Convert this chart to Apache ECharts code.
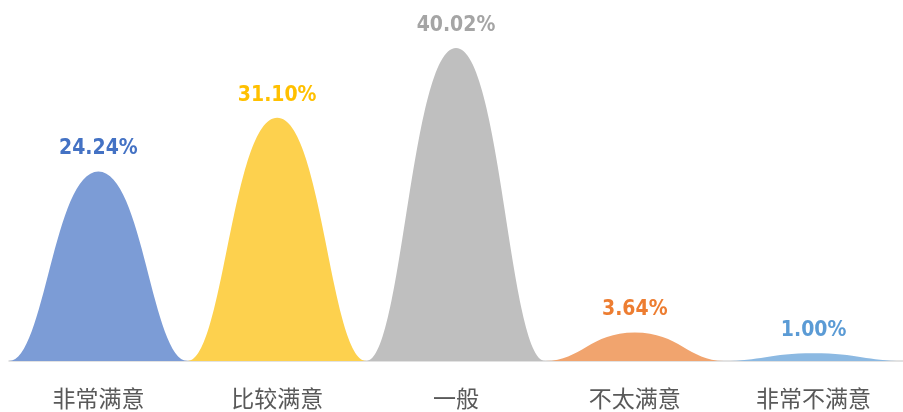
<!DOCTYPE html>
<html><head><meta charset="utf-8">
<script src="https://cdn.jsdelivr.net/npm/echarts@6/dist/echarts.min.js"></script>
<style>html,body{margin:0;padding:0;background:#fff}#c{width:903px;height:412px}</style>
</head><body><div id="c"></div>
<script>
var categories = ['非常满意','比较满意','一般','不太满意','非常不满意'];
var values = [24.24, 31.10, 40.02, 3.64, 1.00];
var barColors = ['#7C9CD6','#FDD14E','#BFBFBF','#F1A46E','#8CB9E2'];
var labelColors = ['#4472C4','#FFC000','#A5A5A5','#ED7D31','#5B9BD5'];

var chart = echarts.init(document.getElementById('c'));
chart.setOption({
  animation:false,
  grid:{left:9,right:0,top:48,bottom:51},
  xAxis:{type:'category',data:categories,
    axisLine:{lineStyle:{color:'#d9d9d9',width:1.5}},axisTick:{show:false},
    axisLabel:{color:'#595959',fontSize:23,margin:26,fontFamily:'Noto Sans CJK SC'}},
  yAxis:{type:'value',min:0,max:40.02,show:false,splitLine:{show:false}},
  series:[{
    type:'pictorialBar',
    symbol:'path://M0,100 C20,100 25,0 50,0 C75,0 80,100 100,100 Z',
    symbolSize:['100%','100%'],
    barCategoryGap:'0%',
    data: values.map(function(v,i){return {value:v,
      itemStyle:{color:barColors[i]},
      label:{color:labelColors[i]}};}),
    label:{show:true,position:'top',distance:12,formatter:function(p){return p.value.toFixed(2)+'%';},
      fontSize:21,fontWeight:'bold',fontFamily:'"Liberation Sans Narrow","DejaVu Sans Condensed",sans-serif'}
  }]
});
</script></body></html>
